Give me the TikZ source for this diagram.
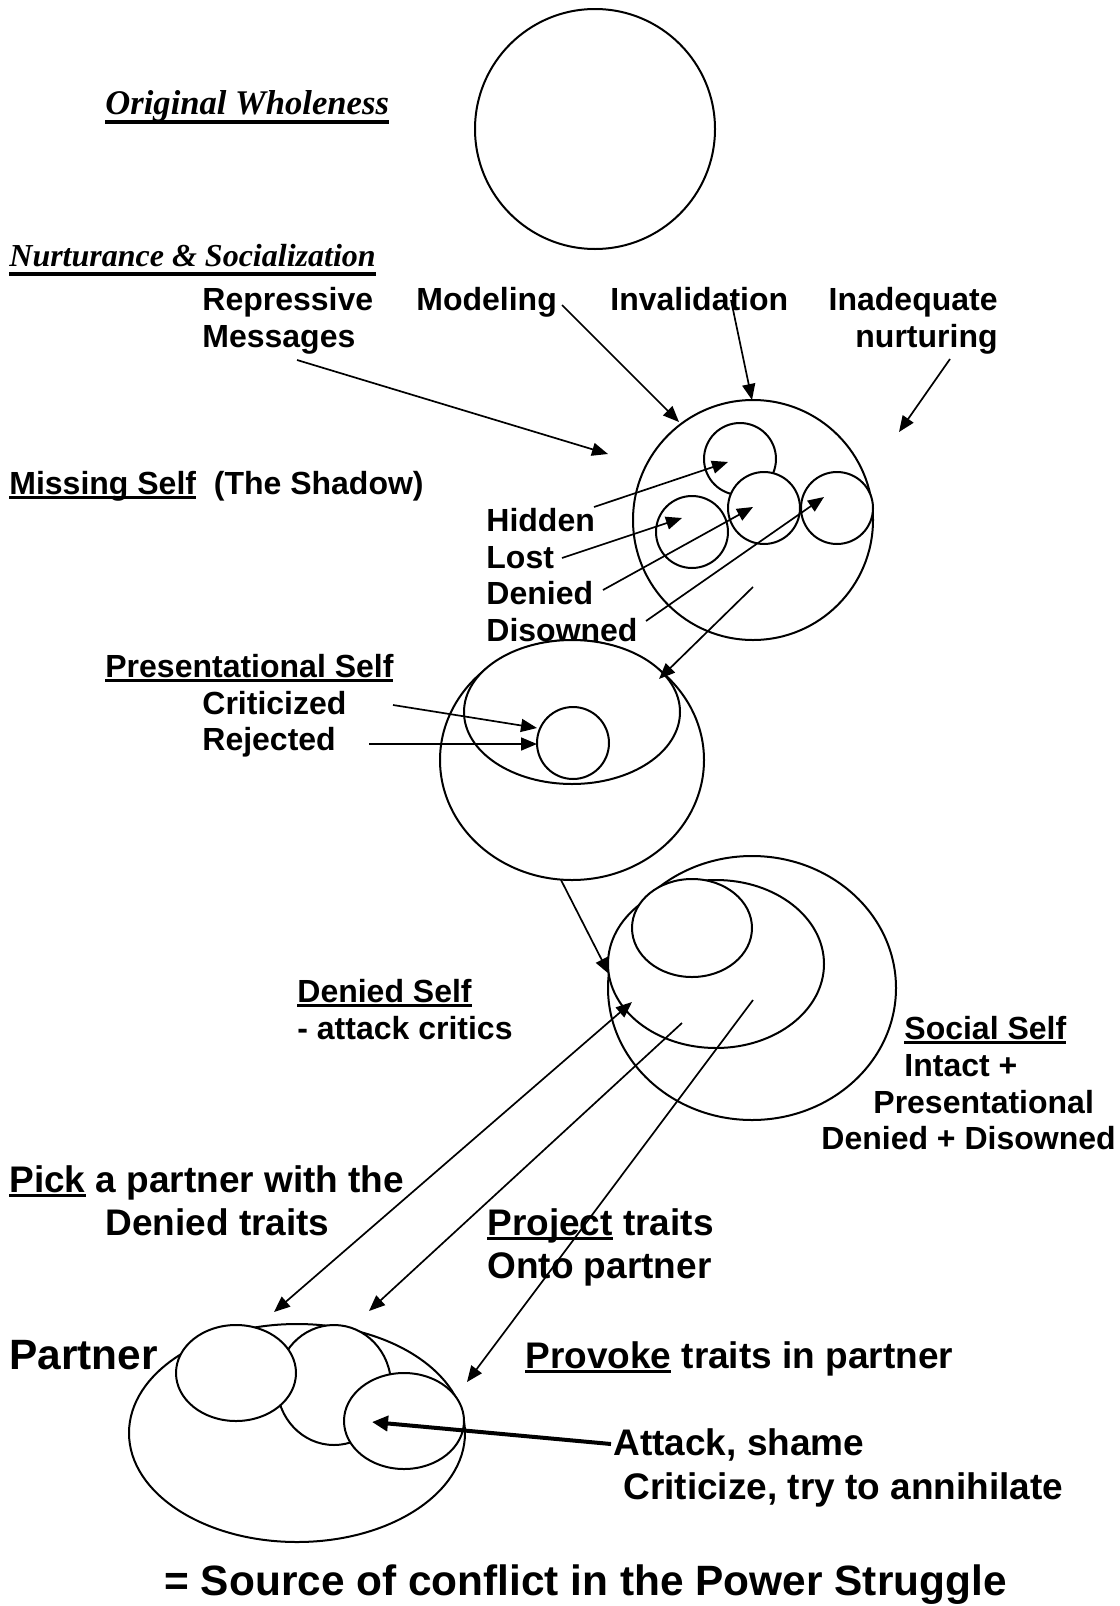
\documentclass[tikz,border=0pt]{standalone}
\usepackage{fontspec}
\setmainfont{Liberation Serif}
\setsansfont{Liberation Sans}
\usetikzlibrary{arrows.meta}
\newsavebox\undlbox
\newcommand\undl[1]{\sbox\undlbox{#1}\rlap{\rule[-2.6pt]{\wd\undlbox}{1.5pt}}\usebox\undlbox}
\newcommand\undlr[1]{\sbox\undlbox{#1}\rlap{\rule[-5pt]{\wd\undlbox}{2pt}}\usebox\undlbox}

\begin{document}
\begin{tikzpicture}[x=0.5pt, y=-0.5pt,
	lbl/.style={font=\sffamily\bfseries\fontsize{16}{19}\selectfont, inner sep=0pt, anchor=base west},
	lblbig/.style={lbl, font=\sffamily\bfseries\fontsize{18.5}{22}\selectfont},
	lblhuge/.style={lbl, font=\sffamily\bfseries\fontsize{21.2}{25}\selectfont},
	ital/.style={lbl, font=\rmfamily\bfseries\itshape\fontsize{17.3}{20}\selectfont},
	ring/.style={line width=1pt, fill=white},
	arr/.style={-{Triangle[length=8pt, width=6.5pt]}, line width=0.85pt}]
	\useasboundingbox (0,0) rectangle (1119,1606);
	% Shapes:
	\draw[ring] (595,129) circle [radius=120];
	\draw[ring] (753,520) circle [radius=120];
	\draw[ring] (740,459) circle [radius=36];
	\draw[ring] (692,532) circle [radius=36];
	\draw[ring] (764,508) circle [radius=36];
	\draw[ring] (837,508) circle [radius=36];
	\draw[ring] (572,760) ellipse [x radius=132, y radius=120];
	\draw[ring] (572,712) ellipse [x radius=108, y radius=72];
	\draw[ring] (573,743) circle [radius=36];
	\draw[ring] (752,988) ellipse [x radius=144, y radius=132];
	\draw[ring] (716,964) ellipse [x radius=108, y radius=84];
	\draw[ring] (692,928) ellipse [x radius=60, y radius=49];
	\draw[ring] (297,1433) ellipse [x radius=168, y radius=109];
	\draw[ring] (334,1385) ellipse [x radius=57, y radius=60];
	\draw[ring] (236,1373) ellipse [x radius=60, y radius=48];
	\draw[ring] (404,1421) ellipse [x radius=60, y radius=48];
	% Labels:
	\node[ital] (whole) at (105,114) {\undlr{Original Wholeness}};
	\node[ital, font=\rmfamily\bfseries\itshape\fontsize{16}{20}\selectfont] (nurt) at (9,266) {\undlr{Nurturance \& Socialization}};
	\node[lbl] (rep) at (202,310) {Repressive};
	\node[lbl] (msg) at (202,347) {Messages};
	\node[lbl] (mod) at (416,310) {Modeling};
	\node[lbl] (inv) at (610,310) {Invalidation};
	\node[lbl, anchor=base east] (inad) at (998,310) {Inadequate};
	\node[lbl, anchor=base east] (nurtg) at (998,347) {nurturing};
	\node[lbl] (miss) at (9,494) {\undl{Missing Self}\ \ (The Shadow)};
	\node[lbl] (hid) at (486,531) {Hidden};
	\node[lbl] (lost) at (486,568) {Lost};
	\node[lbl] (den) at (486,604) {Denied};
	\node[lbl] (dis) at (486,641) {Disowned};
	\node[lbl] (pres) at (105,677) {\undl{Presentational Self}};
	\node[lbl] (crit) at (202,714) {Criticized};
	\node[lbl] (rej) at (202,750) {Rejected};
	\node[lbl] (dself) at (297,1002) {\undl{Denied Self}};
	\node[lbl] (attc) at (297,1039) {- attack critics};
	\node[lbl] (sself) at (904,1039) {\undl{Social Self}};
	\node[lbl] (intact) at (904,1076) {Intact +};
	\node[lbl] (prest) at (873,1113) {Presentational};
	\node[lbl] (dendis) at (821,1149) {Denied + Disowned};
	\node[lblbig] (pick) at (9,1192) {\undl{Pick} a partner with the};
	\node[lblbig] (dtr) at (105,1235) {Denied traits};
	\node[lblbig] (proj) at (487,1235) {\undl{Project} traits};
	\node[lblbig] (onto) at (487,1278) {Onto partner};
	\node[lblhuge] (partner) at (9,1369) {Partner};
	\node[lblbig] (prov) at (525,1368) {\undl{Provoke} traits in partner};
	\node[lblbig] (att) at (613,1455) {Attack, shame};
	\node[lblbig] (critz) at (623,1499) {Criticize, try to annihilate};
	\node[lblhuge] (source) at (164,1595) {= Source of conflict in the Power Struggle};
	% Arrow ends:
	\coordinate (repS) at (297,360);  \coordinate (repE) at (608,454);
	\coordinate (modS) at (562,305);  \coordinate (modE) at (679,422);
	\coordinate (invS) at (731,300);  \coordinate (invE) at (752,400);
	\coordinate (inadS) at (950,359); \coordinate (inadE) at (899,432);
	\coordinate (hidS) at (594,507);  \coordinate (hidE) at (728,462);
	\coordinate (lostS) at (562,558); \coordinate (lostE) at (682,518);
	\coordinate (denS) at (603,590);  \coordinate (denE) at (753,507);
	\coordinate (disS) at (646,621);  \coordinate (disE) at (824,497);
	\coordinate (missS) at (753,587); \coordinate (missE) at (659,679);
	\coordinate (critS) at (393,705); \coordinate (critE) at (537,728);
	\coordinate (rejS) at (369,744);  \coordinate (rejE) at (537,744);
	\coordinate (presS) at (561,880); \coordinate (presE) at (609,974);
	\coordinate (pickS) at (632,1002); \coordinate (pickE) at (274,1312);
	\coordinate (projS) at (682,1023); \coordinate (projE) at (369,1311);
	\coordinate (provS) at (753,1000); \coordinate (provE) at (467,1382);
	\coordinate (attS) at (611,1444); \coordinate (attE) at (372,1422);
	% Arrows:
	\draw[arr] (repS) -- (repE);
	\draw[arr] (modS) -- (modE);
	\draw[arr] (invS) -- (invE);
	\draw[arr] (inadS) -- (inadE);
	\draw[arr] (hidS) -- (hidE);
	\draw[arr] (lostS) -- (lostE);
	\draw[arr] (denS) -- (denE);
	\draw[arr] (disS) -- (disE);
	\draw[arr] (missS) -- (missE);
	\draw[arr] (critS) -- (critE);
	\draw[arr] (rejS) -- (rejE);
	\draw[arr] (presS) -- (presE);
	\draw[arr, {Triangle[length=8pt, width=6.5pt]}-{Triangle[length=8pt, width=6.5pt]}] (pickS) -- (pickE);
	\draw[arr] (projS) -- (projE);
	\draw[arr] (provS) -- (provE);
	\draw[arr, line width=2pt, -{Triangle[length=8pt, width=7.5pt]}] (attS) -- (attE);
\end{tikzpicture}
\end{document}
